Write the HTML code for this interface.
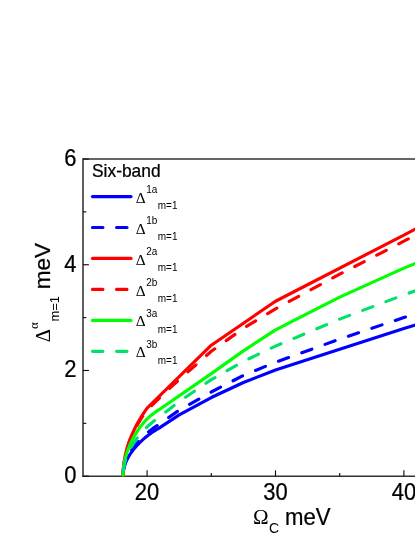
<!DOCTYPE html>
<html><head><meta charset="utf-8"><style>
html,body{margin:0;padding:0;background:#fff;}
body{width:415px;height:537px;overflow:hidden;}
svg{display:block;will-change:transform;font-family:"Liberation Sans",sans-serif;}
</style></head><body>
<svg width="415" height="537" viewBox="0 0 415 537">
<rect width="415" height="537" fill="#fff"/>
<g stroke="#333" stroke-width="1.55" fill="none">
<path d="M83.0,476.92 V159.00 H416"/>
<path d="M82.28,476.20 H416"/>
</g>
<g stroke="#111" stroke-width="1.15" fill="none">
<path d="M83.0,476.20 h5.9"/>
<path d="M83.0,423.33 h3.3"/>
<path d="M83.0,370.47 h5.9"/>
<path d="M83.0,317.60 h3.3"/>
<path d="M83.0,264.73 h5.9"/>
<path d="M83.0,211.87 h3.3"/>
<path d="M83.0,159.00 h5.9"/>
<path d="M147.1,476.20 v-5.9"/>
<path d="M211.3,476.20 v-3.3"/>
<path d="M275.5,476.20 v-5.9"/>
<path d="M339.7,476.20 v-3.3"/>
<path d="M403.9,476.20 v-5.9"/>
</g>
<g>
<path d="M123.09,476.60 L123.09,475.70 L123.12,474.37 L123.20,473.05 L123.33,471.72 L123.52,470.40 L123.76,469.07 L124.05,467.75 L124.40,466.42 L124.80,465.10 L125.25,463.77 L125.76,462.45 L126.32,461.12 L126.93,459.80 L127.60,458.47 L128.32,457.15 L129.09,455.82 L129.92,454.50 L130.80,453.17 L131.73,451.85 L132.72,450.52 L133.76,449.19 L134.85,447.87 L136.00,446.54 L137.20,445.22 L138.46,443.89 L138.75,443.59 L140.17,442.17 L141.63,440.78 L143.13,439.41 L144.67,438.07 L146.27,436.77 L147.90,435.48 L149.58,434.23 L151.31,433.00 L153.08,431.80 L154.89,430.63 L156.75,429.48 L158.66,428.37 L179.20,414.90 L211.30,397.51 L243.40,382.49 L275.50,369.96 L339.70,349.18 L403.90,328.40 L419.31,323.77" stroke="#0000ff" stroke-width="3.15" fill="none" stroke-linejoin="round"/>
<path d="M123.09,476.60 L123.09,475.70 L123.12,474.27 L123.20,472.84 L123.33,471.41 L123.52,469.98 L123.76,468.55 L124.05,467.12 L124.40,465.70 L124.80,464.27 L125.25,462.84 L125.76,461.41 L126.32,459.98 L126.93,458.55 L127.60,457.12 L128.32,455.69 L129.09,454.26 L129.92,452.83 L130.80,451.40 L131.73,449.97 L132.72,448.54 L133.76,447.11 L134.85,445.69 L136.00,444.26 L137.20,442.83 L138.46,441.40 L138.75,441.07 L140.17,439.55 L141.63,438.06 L143.13,436.59 L144.67,435.16 L146.27,433.75 L147.90,432.37 L149.58,431.01 L151.31,429.69 L153.08,428.39 L154.89,427.12 L156.75,425.87 L158.66,424.66 L179.20,410.14 L211.30,392.01 L243.40,375.41 L275.50,362.29 L339.70,339.08 L403.90,317.51 L419.31,312.58" stroke="#0000ff" stroke-width="3.15" fill="none" stroke-linejoin="round" stroke-dasharray="10.7 14.05" stroke-dashoffset="-3.7" stroke-linecap="round"/>
<path d="M123.09,476.60 L123.09,475.70 L123.12,473.44 L123.20,471.19 L123.33,468.93 L123.52,466.68 L123.76,464.42 L124.05,462.17 L124.40,459.91 L124.80,457.65 L125.25,455.40 L125.76,453.14 L126.32,450.89 L126.93,448.63 L127.60,446.37 L128.32,444.12 L129.09,441.86 L129.92,439.61 L130.80,437.35 L131.73,435.10 L132.72,432.84 L133.76,430.58 L134.85,428.33 L136.00,426.07 L137.20,423.82 L138.46,421.56 L139.76,419.31 L141.12,417.05 L142.54,414.79 L144.01,412.54 L145.53,410.28 L147.10,408.03 L211.30,345.22 L275.50,301.23 L403.90,235.09 L419.31,227.11" stroke="#ff0000" stroke-width="3.15" fill="none" stroke-linejoin="round"/>
<path d="M123.09,476.60 L123.09,475.70 L123.12,473.51 L123.20,471.31 L123.33,469.12 L123.52,466.92 L123.76,464.73 L124.05,462.54 L124.40,460.34 L124.80,458.15 L125.25,455.95 L125.76,453.76 L126.32,451.56 L126.93,449.37 L127.60,447.18 L128.32,444.98 L129.09,442.79 L129.92,440.59 L130.80,438.40 L131.73,436.21 L132.72,434.01 L133.76,431.82 L134.85,429.62 L136.00,427.43 L137.20,425.24 L138.46,423.04 L139.76,420.85 L141.12,418.65 L142.54,416.46 L144.01,414.27 L145.53,412.07 L147.10,409.88 L173.68,384.50 L211.30,351.30 L243.40,328.35 L275.50,308.79 L339.70,274.21 L403.90,241.22 L419.31,233.29" stroke="#ff0000" stroke-width="3.15" fill="none" stroke-linejoin="round" stroke-dasharray="10.7 14.05" stroke-dashoffset="-4.2" stroke-linecap="round"/>
<path d="M123.09,476.60 L123.09,475.70 L123.12,473.77 L123.20,471.85 L123.33,469.92 L123.52,468.00 L123.76,466.07 L124.05,464.14 L124.40,462.22 L124.80,460.29 L125.25,458.36 L125.76,456.44 L126.32,454.51 L126.93,452.59 L127.60,450.66 L128.32,448.73 L129.09,446.81 L129.92,444.88 L130.80,442.95 L131.73,441.03 L132.72,439.10 L133.76,437.18 L134.85,435.25 L136.00,433.32 L137.20,431.40 L138.46,429.47 L138.75,429.02 L140.17,427.05 L141.63,425.14 L143.13,423.31 L144.67,421.54 L146.27,419.85 L147.90,418.22 L149.58,416.67 L151.31,415.18 L153.08,413.77 L154.89,412.43 L156.75,411.15 L158.66,409.95 L211.30,373.66 L243.40,350.87 L275.50,329.88 L339.70,297.11 L403.90,268.13 L419.31,261.85" stroke="#00ff00" stroke-width="3.15" fill="none" stroke-linejoin="round"/>
<path d="M123.09,476.60 L123.09,475.70 L123.12,474.06 L123.20,472.43 L123.33,470.79 L123.52,469.15 L123.76,467.51 L124.05,465.88 L124.40,464.24 L124.80,462.60 L125.25,460.97 L125.76,459.33 L126.32,457.69 L126.93,456.05 L127.60,454.42 L128.32,452.78 L129.09,451.14 L129.92,449.50 L130.80,447.87 L131.73,446.23 L132.72,444.59 L133.76,442.96 L134.85,441.32 L136.00,439.68 L137.20,438.04 L138.46,436.41 L138.75,436.03 L140.17,434.31 L141.63,432.63 L143.13,430.98 L144.67,429.36 L146.27,427.77 L147.90,426.21 L149.58,424.69 L151.31,423.20 L153.08,421.74 L154.89,420.32 L156.75,418.92 L158.66,417.56 L179.20,401.52 L211.30,379.64 L243.40,361.40 L275.50,346.12 L339.70,319.10 L403.90,294.83 L419.31,289.53" stroke="#00e169" stroke-width="3.15" fill="none" stroke-linejoin="round" stroke-dasharray="10.7 14.05" stroke-dashoffset="-6.3" stroke-linecap="round"/>
</g>
<g fill="#000">
<text transform="translate(76.60,483.20) scale(0.925,1)" font-size="23.78" text-anchor="end" stroke="#000" stroke-width="0.25">0</text><text transform="translate(76.60,377.47) scale(0.925,1)" font-size="23.78" text-anchor="end" stroke="#000" stroke-width="0.25">2</text><text transform="translate(76.60,271.73) scale(0.925,1)" font-size="23.78" text-anchor="end" stroke="#000" stroke-width="0.25">4</text><text transform="translate(76.60,166.00) scale(0.925,1)" font-size="23.78" text-anchor="end" stroke="#000" stroke-width="0.25">6</text>
<text transform="translate(147.10,500.00) scale(0.925,1)" font-size="23.78" text-anchor="middle" stroke="#000" stroke-width="0.25">20</text><text transform="translate(275.50,500.00) scale(0.925,1)" font-size="23.78" text-anchor="middle" stroke="#000" stroke-width="0.25">30</text><text transform="translate(403.90,500.00) scale(0.925,1)" font-size="23.78" text-anchor="middle" stroke="#000" stroke-width="0.25">40</text>
<text transform="translate(92.00,177.30) scale(0.925,1)" font-size="18.81" stroke="#000" stroke-width="0.25">Six-band</text>
</g>
<g fill="#000">
<path d="M92.5,196.6 H131" stroke="#0000ff" stroke-width="3.15" stroke-linecap="round" fill="none"/>
<text transform="translate(135.80,202.65) scale(1.000,1)" font-size="15.40" font-family="Liberation Serif">Δ</text>
<text transform="translate(146.30,193.05) scale(0.925,1)" font-size="10.81">1a</text>
<text transform="translate(157.80,209.45) scale(0.925,1)" font-size="10.81">m=1</text>
<path d="M92.5,227.5 H131" stroke="#0000ff" stroke-width="3.15" stroke-dasharray="10.4 13.7" stroke-linecap="round" fill="none"/>
<text transform="translate(135.80,233.60) scale(1.000,1)" font-size="15.40" font-family="Liberation Serif">Δ</text>
<text transform="translate(146.30,224.00) scale(0.925,1)" font-size="10.81">1b</text>
<text transform="translate(157.80,240.40) scale(0.925,1)" font-size="10.81">m=1</text>
<path d="M92.5,258.4 H131" stroke="#ff0000" stroke-width="3.15" stroke-linecap="round" fill="none"/>
<text transform="translate(135.80,264.55) scale(1.000,1)" font-size="15.40" font-family="Liberation Serif">Δ</text>
<text transform="translate(146.30,254.95) scale(0.925,1)" font-size="10.81">2a</text>
<text transform="translate(157.80,271.35) scale(0.925,1)" font-size="10.81">m=1</text>
<path d="M92.5,289.4 H131" stroke="#ff0000" stroke-width="3.15" stroke-dasharray="10.4 13.7" stroke-linecap="round" fill="none"/>
<text transform="translate(135.80,295.50) scale(1.000,1)" font-size="15.40" font-family="Liberation Serif">Δ</text>
<text transform="translate(146.30,285.90) scale(0.925,1)" font-size="10.81">2b</text>
<text transform="translate(157.80,302.30) scale(0.925,1)" font-size="10.81">m=1</text>
<path d="M92.5,320.4 H131" stroke="#00ff00" stroke-width="3.15" stroke-linecap="round" fill="none"/>
<text transform="translate(135.80,326.45) scale(1.000,1)" font-size="15.40" font-family="Liberation Serif">Δ</text>
<text transform="translate(146.30,316.85) scale(0.925,1)" font-size="10.81">3a</text>
<text transform="translate(157.80,333.25) scale(0.925,1)" font-size="10.81">m=1</text>
<path d="M92.5,351.3 H131" stroke="#00e169" stroke-width="3.15" stroke-dasharray="10.4 13.7" stroke-linecap="round" fill="none"/>
<text transform="translate(135.80,357.40) scale(1.000,1)" font-size="15.40" font-family="Liberation Serif">Δ</text>
<text transform="translate(146.30,347.80) scale(0.925,1)" font-size="10.81">3b</text>
<text transform="translate(157.80,364.20) scale(0.925,1)" font-size="10.81">m=1</text>
</g>
<g fill="#000">
<text transform="translate(50.20,342.20) rotate(-90) scale(0.938,1)" font-size="21.80" font-family="Liberation Serif">Δ</text>
<text transform="translate(37.90,328.90) rotate(-90) scale(1.000,1)" font-size="13.00" font-family="Liberation Serif">α</text>
<text transform="translate(58.70,321.60) rotate(-90) scale(1.000,1)" font-size="13.00">m=1</text>
<text transform="translate(50.20,289.30) rotate(-90) scale(1.000,1)" font-size="22.50" stroke="#000" stroke-width="0.25">meV</text>
<text transform="translate(252.90,524.00) scale(1.000,1)" font-size="21.00" font-family="Liberation Serif">Ω</text>
<text transform="translate(269.00,532.80) scale(1.000,1)" font-size="14.00">C</text>
<text transform="translate(284.90,524.70) scale(0.925,1)" font-size="24.00" stroke="#000" stroke-width="0.25">meV</text>
</g>
</svg>
</body></html>
